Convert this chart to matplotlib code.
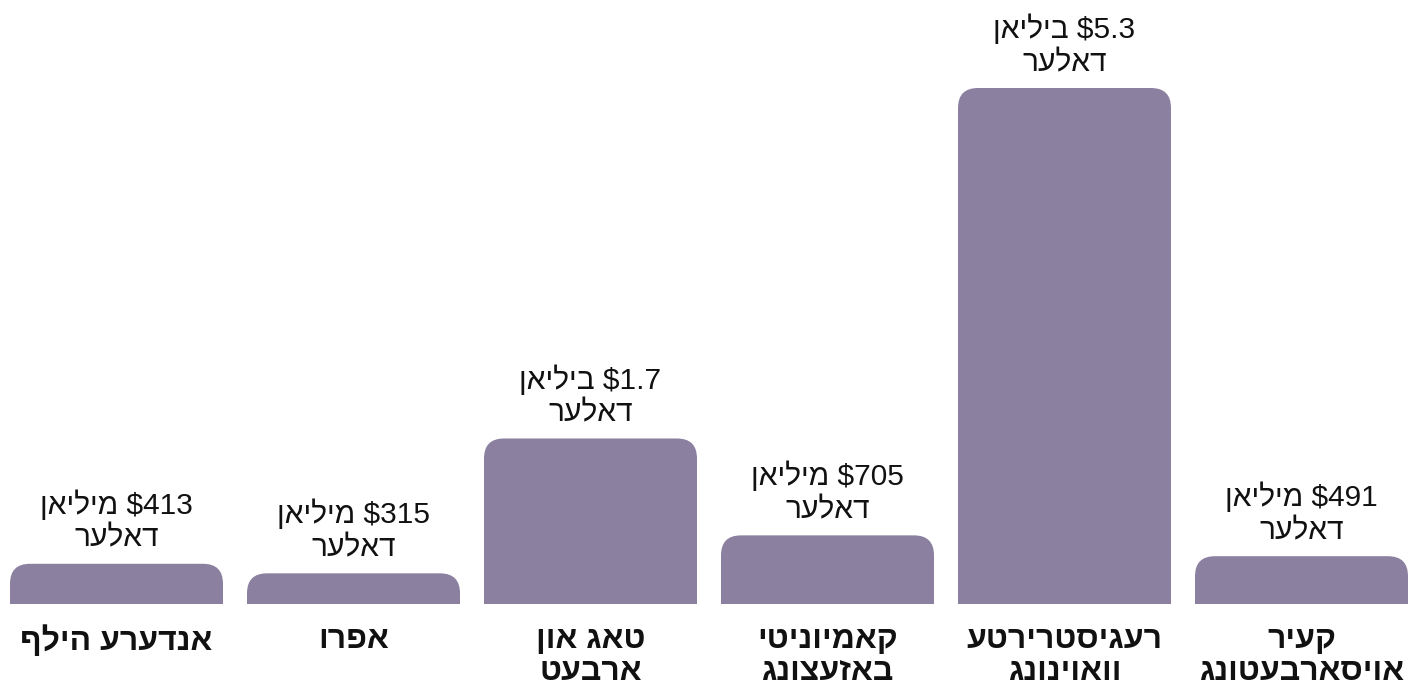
import matplotlib
matplotlib.use("Agg")
import matplotlib.pyplot as plt
from matplotlib.path import Path
from matplotlib.patches import PathPatch

categories = ["אנדערע הילף", "אפרו", "טאג און\nארבעט", "קאמיוניטי\nבאזעצונג",
              "רעגיסטרירטע\nוואוינונג", "קעיר\nאויסארבעטונג"]
values_bn = [0.413, 0.315, 1.7, 0.705, 5.3, 0.491]
value_labels = ["$413 מיליאן\nדאלער", "$315 מיליאן\nדאלער", "$1.7 ביליאן\nדאלער",
                "$705 מיליאן\nדאלער", "$5.3 ביליאן\nדאלער", "$491 מיליאן\nדאלער"]

BAR_COLOR = "#8b80a0"
FONT = ["Liberation Sans", "DejaVu Sans"]


def is_heb(tok):
    return any('\u0590' <= c <= '\u05ff' for c in tok)


def visual(text):
    lines = []
    for line in text.split("\n"):
        toks = line.split(" ")
        out = [t[::-1] if is_heb(t) else t for t in reversed(toks)]
        lines.append(" ".join(out).replace("$", r"\$"))
    return "\n".join(lines)


W, H = 1428, 686
fig = plt.figure(figsize=(W / 100, H / 100), dpi=100)
ax = fig.add_axes([0, 0, 1, 1])
px_x = 237.0
px_y = 516.0 / 5.3
ax.set_xlim(-116.5 / px_x, (W - 116.5) / px_x)
ax.set_ylim(-82 / px_y, (H - 82) / px_y)
ax.axis("off")

width = 213.0 / px_x
bars = ax.bar(range(len(values_bn)), values_bn, width=width, color=BAR_COLOR)
rx = 20.0 / px_x
ry = 20.0 / px_y
for rect in bars:
    x0 = rect.get_x()
    w = rect.get_width()
    h = rect.get_height()
    r_y = min(ry, h)
    verts = [(x0, 0), (x0, h - r_y), (x0, h), (x0 + rx, h),
             (x0 + w - rx, h), (x0 + w, h), (x0 + w, h - r_y),
             (x0 + w, 0), (x0, 0)]
    codes = [Path.MOVETO, Path.LINETO, Path.CURVE3, Path.CURVE3,
             Path.LINETO, Path.CURVE3, Path.CURVE3, Path.LINETO, Path.CLOSEPOLY]
    patch = PathPatch(Path(verts, codes), facecolor=BAR_COLOR, edgecolor="none")
    ax.add_patch(patch)
    rect.set_visible(False)

for i, (v, lab) in enumerate(zip(values_bn, value_labels)):
    ax.annotate(visual(lab), xy=(i, v), xytext=(0, 8), textcoords="offset points",
                ha="center", va="bottom", multialignment="center",
                fontsize=21.5, family=FONT, color="#111111", linespacing=1.22)

for i, cat in enumerate(categories):
    ax.annotate(visual(cat), xy=(i, 0), xytext=(0, -15), textcoords="offset points",
                ha="center", va="top", multialignment="center",
                fontsize=23, fontweight="bold", family=FONT, color="#111111",
                linespacing=1.08)

fig.savefig("out.png", dpi=100)
